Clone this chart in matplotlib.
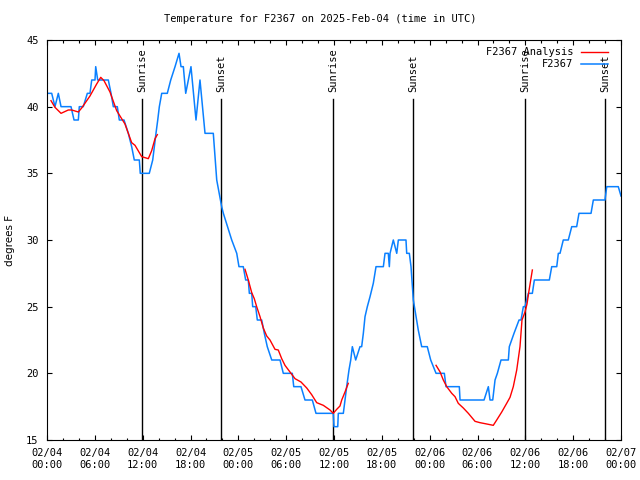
import matplotlib
matplotlib.use("Agg")
import matplotlib.pyplot as plt
import matplotlib.dates as mdates
import pandas as pd

# hours since 2025-02-04 00:00 UTC, temperature in F
obs_hours = [0.0, 0.59, 1.00, 1.42, 1.76, 3.01, 3.39, 3.93, 4.05, 4.55, 5.06, 5.39, 5.61,
             6.02, 6.11, 6.36, 7.69, 8.03, 8.32, 8.82, 9.07, 9.66, 10.20, 10.62, 10.95,
             11.58, 11.70, 12.83, 13.26, 13.46, 13.67, 13.89, 14.09, 14.39, 15.09, 15.52,
             16.06, 16.56, 16.81, 17.10, 17.40, 18.06, 18.69, 19.19, 19.82, 20.86, 21.29,
             21.91, 22.12, 23.17, 23.80, 24.08, 24.62, 24.92, 25.25, 25.38, 25.68, 25.80,
             26.18, 26.38, 26.93, 27.26, 27.63, 28.19, 29.23, 29.64, 30.77, 30.95, 31.86,
             32.36, 33.28, 33.74, 35.91, 36.00, 36.47, 36.54, 37.17, 37.38, 37.59, 37.88,
             38.10, 38.30, 38.72, 39.26, 39.47, 39.68, 39.89, 40.18, 40.52, 40.93, 41.27,
             42.19, 42.40, 42.81, 42.94, 43.03, 43.44, 43.87, 44.07, 45.03, 45.12, 45.45,
             45.66, 45.95, 46.29, 46.57, 47.00, 47.70, 48.13, 48.80, 49.84, 50.05, 51.72,
             51.81, 54.82, 55.36, 55.57, 55.91, 56.20, 56.49, 56.95, 57.87, 57.99, 58.58,
             59.21, 59.46, 59.75, 59.96, 60.38, 60.88, 61.13, 63.01, 63.31, 63.94, 64.14,
             64.35, 64.76, 65.39, 65.82, 66.44, 66.73, 68.24, 68.53, 69.99, 70.21, 71.66,
             72.0]
obs_temp = [41, 41, 40, 41, 40, 40, 39, 39, 40, 40, 41, 41, 42,
            42, 43, 42, 42, 41, 40, 40, 39, 39, 38, 37, 36,
            36, 35, 35, 36, 37, 38, 39, 40, 41, 41, 42,
            43, 44, 43, 43, 41, 43, 39, 42, 38, 38, 34.5,
            32.5, 32, 30, 29, 28, 28, 27, 27, 26, 26, 25,
            25, 24, 24, 23, 22, 21, 21, 20, 20, 19, 19,
            18, 18, 17, 17, 16, 16, 17, 17, 18, 19, 20.25,
            21, 22, 21, 22, 22, 23, 24.25, 25, 25.75, 26.75, 28,
            28, 29, 29, 28, 29, 30, 29, 30, 30, 29, 29,
            28, 25.5, 24.25, 23.25, 22, 22, 21, 20, 20, 19, 19,
            18, 18, 19, 18, 18, 19.5, 20, 21, 21, 22, 23,
            24, 24, 25, 25, 26, 26, 27, 27, 28, 28, 29,
            29, 30, 30, 31, 31, 32, 32, 33, 33, 34, 34,
            33.3]

# analysis curve comes in three pieces
ana_hours = [[0.50, 1.00, 1.76, 2.67, 3.10, 3.93, 4.35, 5.39, 6.23, 6.74, 7.15, 7.90,
              8.74, 9.78, 10.62, 11.04, 11.88, 12.71, 13.13, 13.55, 13.84],
             [24.84, 25.25, 25.68, 26.00, 26.30, 26.72, 27.13, 27.56, 27.97, 28.60, 29.01,
              29.44, 29.85, 30.48, 31.11, 31.86, 32.58, 33.20, 33.83, 34.66, 35.50, 35.91,
              36.34, 36.75, 36.97, 37.38, 37.79],
             [48.80, 49.31, 49.71, 50.14, 50.77, 51.18, 51.59, 52.22, 52.85, 53.69, 54.31,
              55.16, 55.98, 56.41, 57.04, 57.66, 58.08, 58.49, 58.92, 59.33, 59.58, 59.96,
              60.21, 60.46, 60.65, 60.88]]
ana_temp = [[40.45, 39.95, 39.5, 39.75, 39.75, 39.6, 39.9, 40.8, 41.7, 42.2, 41.95, 41.1,
             39.7, 38.7, 37.3, 37.1, 36.25, 36.1, 36.7, 37.6, 37.9],
            [27.8, 27.0, 26.05, 25.6, 25.0, 24.25, 23.4, 22.8, 22.5, 21.8, 21.75,
             21.1, 20.6, 20.1, 19.6, 19.35, 18.9, 18.4, 17.8, 17.6, 17.25, 17.0,
             17.3, 17.55, 18.0, 18.6, 19.25],
            [20.6, 20.1, 19.5, 19.0, 18.5, 18.25, 17.75, 17.4, 17.0, 16.4, 16.3,
             16.2, 16.1, 16.5, 17.1, 17.75, 18.2, 19.0, 20.25, 22.0, 24.0, 24.6,
             25.2, 26.2, 26.9, 27.75]]

sun_hours = [11.95, 21.83, 35.92, 45.95, 60.0, 70.03]
sun_labels = ["Sunrise", "Sunset", "Sunrise", "Sunset", "Sunrise", "Sunset"]

start = pd.Timestamp("2025-02-04 00:00")
def to_time(hours):
    return start + pd.to_timedelta(hours, unit="h")

mono = "DejaVu Sans Mono"
fs = 7.5

fig = plt.figure(figsize=(6.4, 4.8), dpi=100)
ax = fig.add_axes([47/640, 40/480, 574/640, 400/480])

# sunrise / sunset markers
for h, lab in zip(sun_hours, sun_labels):
    t = to_time(h)
    ax.plot([t, t], [0, 0.8525], color="black", lw=1.0,
            transform=ax.get_xaxis_transform(), zorder=1)
    ax.text(t, 0.87, lab, rotation=90, ha="center", va="bottom", family=mono,
            fontsize=fs, transform=ax.get_xaxis_transform())

for i in range(len(ana_hours)):
    ax.plot(to_time(ana_hours[i]), ana_temp[i], color="#ff0000", lw=1.0,
            label="F2367 Analysis" if i == 0 else None, zorder=3)
ax.plot(to_time(obs_hours), obs_temp, color="#0a80ff", lw=1.1, label="F2367", zorder=2)

ax.set_xlim(start, start + pd.Timedelta(hours=72))
ax.set_ylim(15, 45)
ax.set_yticks(range(15, 46, 5))
ax.xaxis.set_major_locator(mdates.HourLocator(byhour=[0, 6, 12, 18]))
ax.xaxis.set_minor_locator(mdates.HourLocator(byhour=range(0, 24, 2)))
ax.xaxis.set_major_formatter(mdates.DateFormatter("%m/%d\n%H:%M"))

ax.tick_params(which="both", direction="in", top=True, right=True, labelsize=fs)
ax.tick_params(which="major", length=3.3, width=0.8, pad=6)
ax.tick_params(which="minor", length=1.8, width=0.8)
for lab in ax.get_xticklabels() + ax.get_yticklabels():
    lab.set_family(mono)
    lab.set_linespacing(1.2)
for sp in ax.spines.values():
    sp.set_linewidth(0.8)

ax.set_ylabel("degrees F", fontsize=7.5)
ax.yaxis.set_label_coords(-0.056, 0.5)

fig.text(0.5, 1 - 19/480, "Temperature for F2367 on 2025-Feb-04 (time in UTC)",
         ha="center", va="center", family=mono, fontsize=fs)

ax.legend(loc="upper right", bbox_to_anchor=(1 - 6/574, 1.0), frameon=False,
          markerfirst=False, prop={"family": mono, "size": fs},
          handlelength=2.6, handletextpad=0.7, labelspacing=0.2, borderaxespad=0.3)

fig.savefig("out.png", dpi=100)
